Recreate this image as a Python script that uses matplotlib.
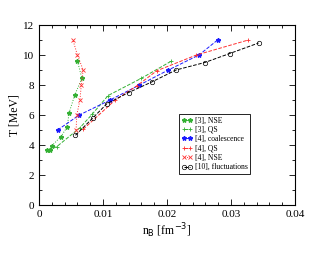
import matplotlib
matplotlib.use("Agg")
import matplotlib.pyplot as plt
from matplotlib.ticker import MultipleLocator

plt.rcParams['font.family'] = ['Liberation Serif', 'DejaVu Serif']

# [3], NSE
nse3_n = [0.0012, 0.0017, 0.0020, 0.0034, 0.0044, 0.0047, 0.0056, 0.0067, 0.0060]
nse3_T = [3.65, 3.65, 3.95, 4.55, 5.2, 6.15, 7.35, 8.45, 9.6]
# [3], QS
qs3_n = [0.0015, 0.0028, 0.0064, 0.0083, 0.0108, 0.0160, 0.0207]
qs3_T = [3.65, 3.9, 5.15, 6.05, 7.3, 8.45, 9.6]
# [4], coalescence
coal_n = [0.0029, 0.0063, 0.0111, 0.0157, 0.0202, 0.0250, 0.0279]
coal_T = [5.0, 6.0, 7.0, 8.0, 9.0, 10.0, 11.0]
# [4], QS
qs4_n = [0.0069, 0.0119, 0.0153, 0.0184, 0.0246, 0.0327]
qs4_T = [5.05, 7.0, 7.95, 8.95, 10.0, 11.0]
# [4], NSE
nse4_n = [0.0058, 0.0059, 0.0064, 0.0066, 0.0069, 0.0060, 0.0053]
nse4_T = [5.0, 6.0, 7.0, 8.0, 9.0, 10.0, 11.0]
# [10], fluctuations
fl_n = [0.0057, 0.0084, 0.0106, 0.0140, 0.0176, 0.0214, 0.0259, 0.0298, 0.0343]
fl_T = [4.65, 5.8, 6.75, 7.5, 8.2, 9.0, 9.5, 10.1, 10.8]

green = '#33b033'
red = '#ff3030'
blue = '#1a1aff'

fig = plt.figure(figsize=(3.32, 2.57), dpi=100)
ax = fig.add_axes([0.1175, 0.2023, 0.7711, 0.7004])

lw = 0.7
ms = 3.2
ax.plot(nse3_n, nse3_T, ls=':', color=green, marker='*', ms=ms, lw=lw, label='[3], NSE')
ax.plot(qs3_n, qs3_T, ls='--', color=green, marker='+', ms=ms, lw=lw, mew=0.6, label='[3], QS')
ax.plot(coal_n, coal_T, ls='--', color=blue, marker='*', ms=ms, lw=lw, label='[4], coalescence')
ax.plot(qs4_n, qs4_T, ls='--', color=red, marker='+', ms=ms, lw=lw, mew=0.6, label='[4], QS')
ax.plot(nse4_n, nse4_T, ls=':', color=red, marker='x', ms=2.6, lw=lw, mew=0.6, label='[4], NSE')
ax.plot(fl_n, fl_T, ls='--', color='black', marker='o', mfc='none', ms=3.2, mew=0.5, lw=lw,
        label='[10], fluctuations')

ax.set_xlim(0, 0.04)
ax.set_ylim(0, 12)
ax.set_xticks([0, 0.01, 0.02, 0.03, 0.04])
ax.set_xticklabels(['0', '0.01', '0.02', '0.03', '0.04'])
ax.xaxis.set_minor_locator(MultipleLocator(0.002))
ax.yaxis.set_major_locator(MultipleLocator(2))
ax.yaxis.set_minor_locator(MultipleLocator(1))
ax.tick_params(which='both', direction='in', top=True, right=True, labelsize=8, width=0.6)
ax.tick_params(which='major', length=4)
ax.tick_params(which='minor', length=2)
for s in ax.spines.values():
    s.set_linewidth(0.8)

ax.set_xlabel(r'n$_\mathrm{B}$ [fm$^{-3}$]', fontsize=8.5, labelpad=2)
ax.set_ylabel('T [MeV]', fontsize=8.5, labelpad=2)

leg = ax.legend(loc='upper left', bbox_to_anchor=(0.548, 0.505), fontsize=5.5, numpoints=2,
                handlelength=1.4, handletextpad=0.3, borderpad=0.3, labelspacing=0.18,
                borderaxespad=0, fancybox=False, edgecolor='black', framealpha=1)
leg.get_frame().set_linewidth(0.6)

fig.savefig('out.png', dpi=100)
